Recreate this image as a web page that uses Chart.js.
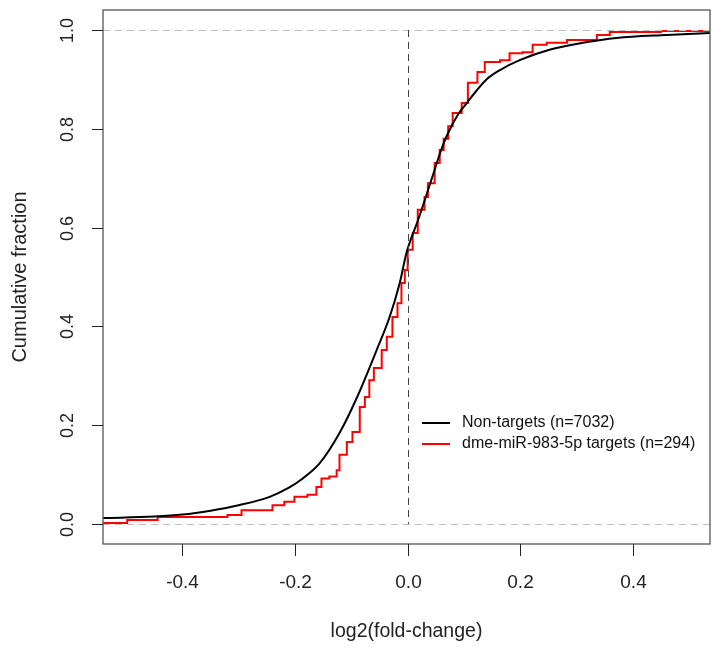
<!DOCTYPE html>
<html>
<head>
<meta charset="utf-8">
<script src="https://cdn.jsdelivr.net/npm/chart.js@4/dist/chart.umd.min.js"></script>
<style>
  body { margin: 0; background: #fff; }
  #wrap { width: 712px; height: 649px; }
</style>
</head>
<body>
<div id="wrap"><canvas id="ecdfChart" width="712" height="649"></canvas></div>
<script>
// --- DATA ---
const xTicks = [-0.4, -0.2, 0.0, 0.2, 0.4];
const yTicks = [0.0, 0.2, 0.4, 0.6, 0.8, 1.0];
const xTitle = 'log2(fold-change)';
const yTitle = 'Cumulative fraction';
const seriesNames = ['Non-targets (n=7032)', 'dme-miR-983-5p targets (n=294)'];

// non-targets ECDF (smooth, many genes)
const nonTargetX = [-0.60, -0.54, -0.45, -0.40, -0.35, -0.30, -0.245, -0.21, -0.19, -0.156, -0.121, -0.09, -0.055, -0.032, -0.014, -0.002, 0.020, 0.044, 0.058, 0.070, 0.090, 0.105, 0.120, 0.140, 0.164, 0.199, 0.252, 0.311, 0.371, 0.46, 0.54, 0.60];
const nonTargetY = [0.010, 0.012, 0.015, 0.019, 0.027, 0.038, 0.055, 0.074, 0.089, 0.123, 0.184, 0.256, 0.352, 0.419, 0.488, 0.549, 0.620, 0.703, 0.752, 0.787, 0.830, 0.852, 0.874, 0.900, 0.919, 0.939, 0.960, 0.974, 0.984, 0.990, 0.994, 0.996];

// miRNA targets ECDF (stepped)
const targetX = [-0.60, -0.498, -0.444, -0.320, -0.295, -0.240, -0.219, -0.201, -0.178, -0.162, -0.153, -0.139, -0.126, -0.121, -0.108, -0.098, -0.085, -0.076, -0.068, -0.060, -0.046, -0.037, -0.027, -0.018, -0.011, -0.005, 0.000, 0.009, 0.018, 0.030, 0.036, 0.048, 0.057, 0.064, 0.072, 0.080, 0.096, 0.107, 0.124, 0.137, 0.164, 0.181, 0.204, 0.222, 0.247, 0.283, 0.336, 0.359, 0.45, 0.60];
const targetY = [0.002, 0.008, 0.014, 0.018, 0.028, 0.038, 0.045, 0.055, 0.059, 0.075, 0.092, 0.096, 0.109, 0.140, 0.166, 0.186, 0.237, 0.257, 0.291, 0.316, 0.352, 0.379, 0.419, 0.447, 0.488, 0.514, 0.555, 0.589, 0.636, 0.662, 0.690, 0.731, 0.757, 0.780, 0.805, 0.832, 0.852, 0.893, 0.915, 0.935, 0.939, 0.953, 0.955, 0.970, 0.974, 0.980, 0.990, 0.996, 0.998, 0.998];

const toPoints = (xs, ys) => xs.map((x, i) => ({ x: x, y: ys[i] }));

const FONT = '"Liberation Sans", Arial, sans-serif';

// --- R-STYLE FRAME, AXES, REFERENCE LINES, LEGEND ---
const rFrame = {
    id: 'rFrame',
    afterDatasetsDraw(chart) {
        const { ctx, chartArea: a, scales: { x, y } } = chart;
        ctx.save();
        ctx.beginPath();
        ctx.rect(a.left, a.top, a.right - a.left, a.bottom - a.top);
        ctx.clip();
        ctx.lineWidth = 1;
        ctx.setLineDash([7, 5]);
        // horizontal lines at 0 and 1
        ctx.strokeStyle = '#bebebe';
        [0, 1].forEach(v => {
            const py = Math.round(y.getPixelForValue(v)) + 0.5;
            ctx.beginPath();
            ctx.moveTo(a.left, py);
            ctx.lineTo(a.right, py);
            ctx.stroke();
        });
        // vertical line at 0
        ctx.strokeStyle = '#444';
        const px0 = Math.round(x.getPixelForValue(0)) + 0.5;
        ctx.beginPath();
        ctx.moveTo(px0, y.getPixelForValue(1));
        ctx.lineTo(px0, y.getPixelForValue(0));
        ctx.stroke();
        ctx.restore();
    },
    afterDraw(chart) {
        const { ctx, chartArea: a, scales: { x, y } } = chart;
        ctx.save();
        // box
        ctx.strokeStyle = '#555';
        ctx.lineWidth = 1.3;
        ctx.strokeRect(a.left, a.top, a.right - a.left, a.bottom - a.top);

        // x ticks
        ctx.strokeStyle = '#222';
        ctx.lineWidth = 1;
        ctx.fillStyle = '#222';
        ctx.font = '19px ' + FONT;
        ctx.textAlign = 'center';
        ctx.textBaseline = 'middle';
        xTicks.forEach(v => {
            const px = Math.round(x.getPixelForValue(v)) + 0.5;
            ctx.beginPath();
            ctx.moveTo(px, a.bottom);
            ctx.lineTo(px, a.bottom + 12);
            ctx.stroke();
            ctx.fillText(v.toFixed(1), px, 583);
        });
        // y ticks (labels rotated like R's las=0)
        ctx.font = '18px ' + FONT;
        yTicks.forEach(v => {
            const py = Math.round(y.getPixelForValue(v)) + 0.5;
            ctx.beginPath();
            ctx.moveTo(a.left, py);
            ctx.lineTo(a.left - 11, py);
            ctx.stroke();
            ctx.save();
            ctx.translate(68, py);
            ctx.rotate(-Math.PI / 2);
            ctx.fillText(v.toFixed(1), 0, 0);
            ctx.restore();
        });

        // axis titles
        ctx.font = '19.5px ' + FONT;
        ctx.fillText(xTitle, (a.left + a.right) / 2, 632);
        ctx.save();
        ctx.font = '20px ' + FONT;
        ctx.translate(20, (a.top + a.bottom) / 2);
        ctx.rotate(-Math.PI / 2);
        ctx.fillText(yTitle, 0, 0);
        ctx.restore();

        // legend
        ctx.font = '16px ' + FONT;
        ctx.textAlign = 'left';
        const colors = ['#000000', '#ff0000'];
        [423, 444].forEach((ly, i) => {
            ctx.strokeStyle = colors[i];
            ctx.lineWidth = 2;
            ctx.beginPath();
            ctx.moveTo(422, ly);
            ctx.lineTo(450, ly);
            ctx.stroke();
            ctx.fillStyle = '#111';
            ctx.fillText(seriesNames[i], 462, ly);
        });
        ctx.restore();
    }
};

// --- CHART SETUP ---
const ctx = document.getElementById('ecdfChart').getContext('2d');
const chart = new Chart(ctx, {
    type: 'line',
    data: {
        datasets: [{
            label: seriesNames[0],
            data: toPoints(nonTargetX, nonTargetY),
            borderColor: '#000000',
            borderWidth: 2,
            pointRadius: 0,
            cubicInterpolationMode: 'monotone',
            fill: false
        }, {
            label: seriesNames[1],
            data: toPoints(targetX, targetY),
            borderColor: '#ff0000',
            borderWidth: 2,
            pointRadius: 0,
            stepped: 'before',
            fill: false
        }]
    },
    options: {
        responsive: false,
        animation: false,
        layout: { padding: { left: 103, right: 2, top: 10, bottom: 105 } },
        plugins: { legend: { display: false }, tooltip: { enabled: false } },
        scales: {
            x: { type: 'linear', min: -0.541, max: 0.537, display: false },
            y: { type: 'linear', min: -0.0405, max: 1.0405, display: false }
        }
    },
    plugins: [rFrame]
});
</script>
</body>
</html>
